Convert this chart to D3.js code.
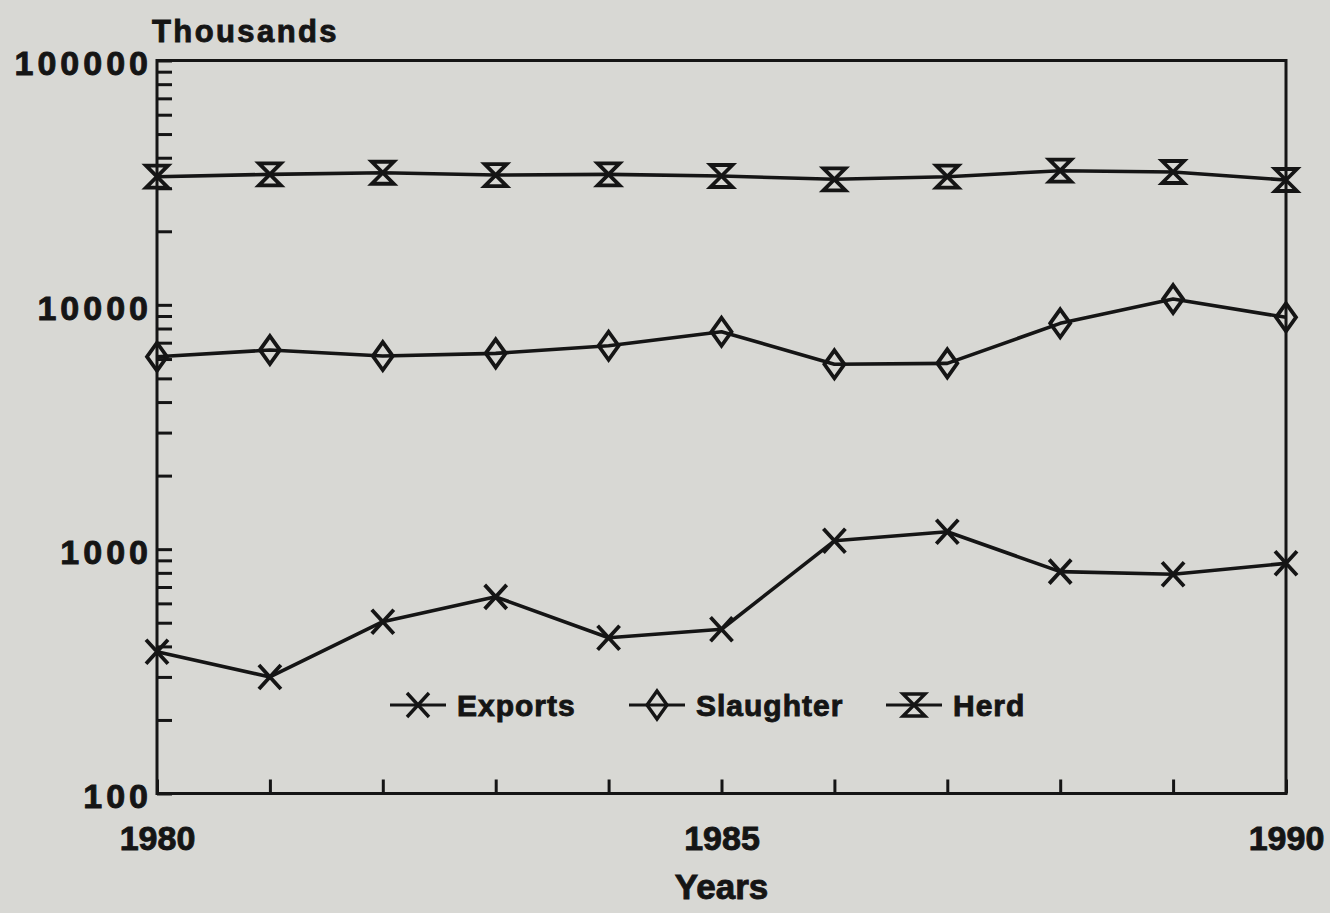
<!DOCTYPE html>
<html>
<head>
<meta charset="utf-8">
<script src="https://cdn.jsdelivr.net/npm/d3@7"></script>
<style>
  html, body { margin:0; padding:0; background:#d8d8d4; }
  svg text { font-family:"Liberation Sans", Arial, sans-serif; font-weight:bold; fill:#151515;
             stroke:#151515; stroke-width:0.9; }
</style>
</head>
<body>
<svg id="chart" width="1330" height="913"></svg>
<script>
// ── data (thousands) ──
const years     = [1980,1981,1982,1983,1984,1985,1986,1987,1988,1989,1990];
const exports   = [380, 300, 505, 638, 434, 470, 1082, 1178, 809, 789, 875];
const slaughter = [6130, 6530, 6170, 6330, 6800, 7760, 5710, 5760, 8400, 10560, 8890];
const herd      = [33450, 34200, 34720, 33980, 34200, 33670, 32640, 33450, 35400, 34960, 32430];
const seriesNames = ['Exports','Slaughter','Herd'];
const yMajor = [100, 1000, 10000, 100000];
const xLabels = [1980, 1985, 1990];

const svg = d3.select('#chart');
const M = {left:157, right:1286, top:60.5, bottom:793.5};

const x = d3.scaleLinear().domain([1980,1990]).range([M.left, M.right]);
const y = d3.scaleLog().domain([100,100000]).range([M.bottom, M.top]);

// minor ticks 1..9 per decade
const yTicks = [];
yMajor.slice(0,-1).forEach(d => { for (let k=1;k<10;k++) yTicks.push(d*k); });
yTicks.push(100000);

// ── axes ──
const gy = svg.append('g').attr('transform',`translate(${M.left},0)`)
  .call(d3.axisLeft(y).tickValues(yTicks).tickSize(-15).tickPadding(5)
    .tickFormat(d => yMajor.includes(d) ? d : ''));
gy.select('.domain').remove();
gy.selectAll('line').attr('stroke','#151515').attr('stroke-width',3);
gy.selectAll('text').attr('font-size',34).attr('letter-spacing',4).attr('dy','0.42em')
  .attr('fill','#151515').attr('font-family','"Liberation Sans", Arial, sans-serif');

const gx = svg.append('g').attr('transform',`translate(0,${M.bottom})`)
  .call(d3.axisBottom(x).tickValues(years).tickSize(-14).tickPadding(32)
    .tickFormat(d => xLabels.includes(d) ? d : ''));
gx.select('.domain').remove();
gx.selectAll('line').attr('stroke','#151515').attr('stroke-width',3);
gx.selectAll('text').attr('font-size',34).attr('fill','#151515')
  .attr('font-family','"Liberation Sans", Arial, sans-serif');

// frame
svg.append('rect')
  .attr('x',M.left).attr('y',M.top)
  .attr('width',M.right-M.left).attr('height',M.bottom-M.top)
  .attr('fill','none').attr('stroke','#151515').attr('stroke-width',3);

// titles
svg.append('text').attr('x',152).attr('y',42).attr('font-size',31).attr('letter-spacing',2.4)
  .text('Thousands');
svg.append('text').attr('x',(M.left+M.right)/2).attr('y',899).attr('text-anchor','middle')
  .attr('font-size',35).text('Years');

// ── markers ──
function markerPath(kind) {
  if (kind==='Exports')   return 'M-11,-12L11,12M-11,12L11,-12';
  if (kind==='Slaughter') return 'M0,-14L10,0L0,14L-10,0Z';
  return 'M-11,-11L11,-11L-11,11L11,11Z';
}

const series = [
  {name:'Exports',   vals:exports},
  {name:'Slaughter', vals:slaughter},
  {name:'Herd',      vals:herd},
];

const line = d3.line().x((d,i)=>x(years[i])).y(d=>y(d));

series.forEach(s => {
  const g = svg.append('g');
  g.append('path').attr('d',line(s.vals))
    .attr('fill','none').attr('stroke','#151515').attr('stroke-width',3.6)
    .attr('stroke-linejoin','round');
  g.selectAll('path.mk').data(s.vals).join('path').attr('class','mk')
    .attr('transform',(d,i)=>`translate(${x(years[i])},${y(d)})`)
    .attr('d',markerPath(s.name))
    .attr('fill','none').attr('stroke','#151515').attr('stroke-width',3.8)
    .attr('stroke-linejoin','miter');
});

// ── legend ──
const legX = [418, 657, 914];
const legY = 705;
seriesNames.forEach((name,i) => {
  const g = svg.append('g').attr('transform',`translate(${legX[i]},${legY})`);
  g.append('line').attr('x1',-28).attr('x2',28).attr('stroke','#151515').attr('stroke-width',3);
  g.append('path').attr('d',markerPath(name)).attr('fill','none')
    .attr('stroke','#151515').attr('stroke-width',3.4);
  g.append('text').attr('x',39).attr('y',11).attr('font-size',30).attr('letter-spacing',1)
    .text(name);
});
</script>
</body>
</html>
